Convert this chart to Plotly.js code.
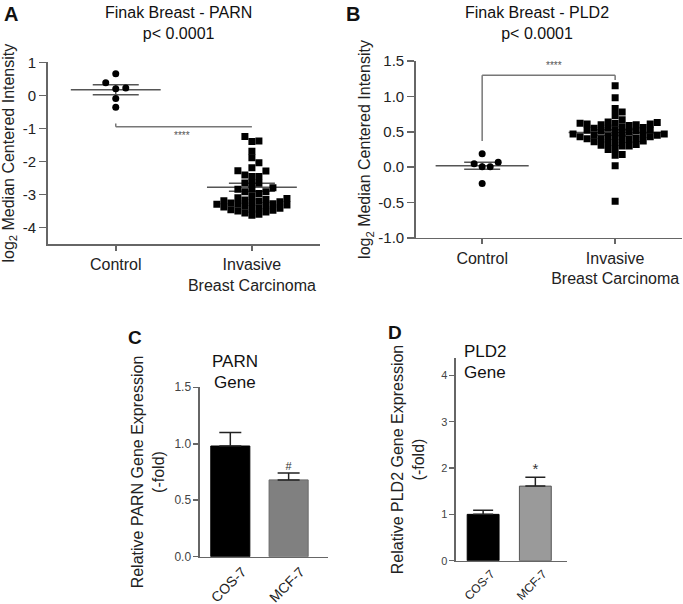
<!DOCTYPE html>
<html>
<head>
<meta charset="utf-8">
<script src="https://cdn.plot.ly/plotly-3.0.1.min.js"></script>
<style>body{margin:0;background:#fff} #plot{width:683px;height:604px}</style>
</head>
<body>
<div id="plot"></div>
<script>
// FINAK BREAST DATASET (panels A and B)
let groups = ["Control", "Invasive<br>Breast Carcinoma"]

let parn_control = [0.65, 0.22, 0.20, 0.38, -0.10, -0.36]
let parn_invasive = [-1.25, -1.38, -1.40, -1.69, -1.89, -2.04, -2.19, -2.28, -2.29, -2.41, -2.46, -2.46,
  -2.65, -2.65, -2.66, -2.80, -2.84, -2.84, -2.92, -2.92, -2.97, -3.05,
  -3.10, -3.12, -3.15, -3.17, -3.19, -3.20, -3.22, -3.24, -3.26, -3.28, -3.30, -3.30, -3.32,
  -3.34, -3.36, -3.38, -3.40, -3.42, -3.44, -3.46, -3.48, -3.50, -3.53, -3.56, -3.60, -3.63]
let parn_means = [0.17, -2.78]
let parn_sems = [0.15, 0.12]
let parn_ticks = [-4, -3, -2, -1, 0, 1]

let pld2_control = [0.19, 0.07, 0.05, 0.005, 0.005, -0.23]
let pld2_invasive = [1.15, 0.98, 0.83, 0.78, 0.73, 0.67,
  0.64, 0.63, 0.62, 0.62, 0.61, 0.61, 0.60, 0.60, 0.59,
  0.57, 0.56, 0.55, 0.55, 0.53, 0.52, 0.52, 0.51, 0.51, 0.50,
  0.48, 0.47, 0.47, 0.46, 0.45, 0.45, 0.44, 0.44, 0.43, 0.43,
  0.41, 0.40, 0.40, 0.39, 0.39, 0.37, 0.36, 0.35, 0.35,
  0.32, 0.31, 0.30, 0.30, 0.26, 0.25, 0.18, 0.17, 0.02, -0.48]
let pld2_means = [0.02, 0.49]
let pld2_sems = [0.05, 0.04]
let pld2_ticks = [-1, -0.5, 0, 0.5, 1, 1.5]

// qPCR IN CELL LINES (panels C and D)
let cells = ["COS-7", "MCF-7"]
let parn_fold = [0.98, 0.68]
let parn_fold_err = [0.12, 0.06]
let pld2_fold = [1.00, 1.61]
let pld2_fold_err = [0.09, 0.19]
let sig_c = ["", "#"]
let sig_d = ["", "*"]

let font = "Liberation Sans, Arial, sans-serif"
let axisGray = "#666"

// hyphen instead of the unicode minus plotly uses
function tickText(vals, digits) {
  return vals.map(v => v.toFixed(digits).replace("\u2212", "-"))
}

// simple beeswarm: place points bottom-up, nearest free slot to the centre
// pxX / pxY are pixels per data unit on each axis
function swarm(vals, pxX, pxY, stepPx, sizePx) {
  let order = vals.map((v, i) => i).sort((a, b) => vals[a] - vals[b])
  let placed = []
  let offs = new Array(vals.length)
  order.forEach(i => {
    let y = vals[i] * pxY
    for (let k = 0; k < 40; k++) {
      let slot = k === 0 ? 0 : (k % 2 ? 1 : -1) * Math.ceil(k / 2)
      let x = slot * stepPx
      let hit = placed.some(p => Math.abs(p[0] - x) < stepPx - 0.5 && Math.abs(p[1] - y) < sizePx)
      if (!hit) { placed.push([x, y]); offs[i] = x / pxX; break }
    }
  })
  return offs
}

function dots(vals, center, offs, symbol, xa, ya) {
  return {
    type: "scatter", mode: "markers", xaxis: xa, yaxis: ya,
    x: vals.map((v, i) => center + offs[i]), y: vals,
    marker: {symbol: symbol, size: 7, color: "#000"},
    hoverinfo: "y"
  }
}

function meanLines(means, half, xa, ya) {
  return means.map((m, i) => ({
    type: "scatter", mode: "lines", xaxis: xa, yaxis: ya,
    x: [i - half, i + half], y: [m, m],
    line: {color: "#555", width: 1.5}, hoverinfo: "skip"
  }))
}

function semBars(means, sems, capPx, xa, ya) {
  return {
    type: "scatter", mode: "markers", xaxis: xa, yaxis: ya,
    x: means.map((m, i) => i), y: means,
    marker: {size: 1, opacity: 0},
    error_y: {type: "data", array: sems, color: "#555", thickness: 1.5, width: capPx},
    hoverinfo: "skip"
  }
}

function sigText(labels, vals, errs, size, xa, ya) {
  let keep = labels.map((t, i) => i).filter(i => labels[i] !== "")
  return {
    type: "scatter", mode: "text", xaxis: xa, yaxis: ya,
    x: keep.map(i => cells[i]), y: keep.map(i => vals[i] + errs[i]),
    text: keep.map(i => labels[i]), textposition: "top center",
    textfont: {family: font, size: size, color: "#333"}, hoverinfo: "skip"
  }
}

// Panel A
let a_ctrl = swarm(parn_control, 136, 33, 10, 7)
let a_inv = swarm(parn_invasive, 136, 33, 7, 6)
// Panel B
let b_ctrl = swarm(pld2_control, 132.7, 70.7, 8, 7)
let b_inv = swarm(pld2_invasive, 132.7, 70.7, 7, 6)

let data = []
data = data.concat(meanLines(parn_means, 0.33, "x", "y"))
data.push(semBars(parn_means, parn_sems, 23, "x", "y"))
data.push(dots(parn_control, 0, a_ctrl, "circle", "x", "y"))
data.push(dots(parn_invasive, 1, a_inv, "square", "x", "y"))

data = data.concat(meanLines(pld2_means, 0.35, "x2", "y2"))
data.push(semBars(pld2_means, pld2_sems, 18, "x2", "y2"))
data.push(dots(pld2_control, 0, b_ctrl, "circle", "x2", "y2"))
data.push(dots(pld2_invasive, 1, b_inv, "square", "x2", "y2"))

// Panel C bars
data.push({
  type: "bar", xaxis: "x3", yaxis: "y3",
  x: cells, y: parn_fold, width: 0.67,
  marker: {color: ["#000", "#808080"], line: {color: ["#000", "#6a6a6a"], width: 1}},
  error_y: {type: "data", array: parn_fold_err, arrayminus: [0, 0], color: "#222", thickness: 1.5, width: 11},
  hoverinfo: "y"
})
data.push(sigText(sig_c, parn_fold, parn_fold_err, 11, "x3", "y3"))

// Panel D bars
data.push({
  type: "bar", xaxis: "x4", yaxis: "y4",
  x: cells, y: pld2_fold, width: 0.61,
  marker: {color: ["#000", "#9a9a9a"], line: {color: ["#000", "#555"], width: 1}},
  error_y: {type: "data", array: pld2_fold_err, arrayminus: [0, 0], color: "#222", thickness: 1.5, width: 10},
  hoverinfo: "y"
})
data.push(sigText(sig_d, pld2_fold, pld2_fold_err, 15, "x4", "y4"))

let base = {
  showline: true, linecolor: axisGray, linewidth: 1.5, showgrid: false, zeroline: false,
  ticks: "outside", tickcolor: axisGray, tickwidth: 1.5, automargin: false, fixedrange: true
}

function label(text, x, y, size, anchor) {
  return {xref: "paper", yref: "paper", x: x, y: y, xanchor: anchor || "left", yanchor: "top",
    showarrow: false, text: text, font: {size: size, color: "#111"}}
}

let layout = {
  width: 683, height: 604,
  margin: {l: 0, r: 0, t: 0, b: 0},
  paper_bgcolor: "#fff", plot_bgcolor: "#fff",
  showlegend: false,
  font: {family: font, color: "#222"},

  xaxis: Object.assign({}, base, {
    domain: [0.0698, 0.4685], range: [-0.5, 1.5], anchor: "y",
    tickvals: [0, 1], ticktext: groups, ticklen: 5, tickfont: {size: 16}
  }),
  yaxis: Object.assign({}, base, {
    domain: [0.596, 0.8969], range: [-4.5, 1], anchor: "x",
    tickvals: parn_ticks, ticktext: tickText(parn_ticks, 0), ticklen: 7, tickfont: {size: 15},
    title: {text: "log<sub>2</sub> Median Centered Intensity", font: {size: 16}, standoff: 6}
  }),

  xaxis2: Object.assign({}, base, {
    domain: [0.6086, 0.998], range: [-0.5, 1.5], anchor: "y2",
    tickvals: [0, 1], ticktext: groups, ticklen: 5, tickfont: {size: 16}
  }),
  yaxis2: Object.assign({}, base, {
    domain: [0.606, 0.899], range: [-1, 1.5], anchor: "x2",
    tickvals: pld2_ticks, ticktext: tickText(pld2_ticks, 1), ticklen: 7, tickfont: {size: 15},
    title: {text: "log<sub>2</sub> Median Centered Intensity", font: {size: 16}, standoff: 3}
  }),

  xaxis3: Object.assign({}, base, {
    domain: [0.2928, 0.4798], range: [-0.52, 1.67], anchor: "y3", type: "category",
    ticks: "", tickangle: -45, tickfont: {size: 14}, ticklabelshift: 12
  }),
  yaxis3: Object.assign({}, base, {
    domain: [0.0783, 0.3588], range: [0, 1.5], anchor: "x3",
    tickvals: [0, 0.5, 1, 1.5], tickformat: ".1f", ticklen: 5, tickfont: {size: 12, color: "#444"},
    title: {text: "Relative PARN Gene Expression<br>(-fold)", font: {size: 16}, standoff: 6}
  }),

  xaxis4: Object.assign({}, base, {
    domain: [0.6676, 0.8297], range: [-0.52, 1.6], anchor: "y4", type: "category",
    ticks: "", tickangle: -45, tickfont: {size: 12}, ticklabelshift: 8
  }),
  yaxis4: Object.assign({}, base, {
    domain: [0.0717, 0.4068], range: [0, 4.37], anchor: "x4",
    tickvals: [0, 1, 2, 3, 4], ticklen: 5, tickfont: {size: 11, color: "#444"},
    title: {text: "Relative PLD2 Gene Expression<br>(-fold)", font: {size: 16}, standoff: 12}
  }),

  shapes: [
    // significance bracket, panel A
    {type: "line", xref: "x", yref: "y", x0: 0, x1: 0, y0: -0.85, y1: -0.95, line: {color: "#777", width: 1.5}},
    {type: "line", xref: "x", yref: "y", x0: 0, x1: 1, y0: -0.95, y1: -0.95, line: {color: "#777", width: 1.5}},
    // significance bracket, panel B
    {type: "line", xref: "x2", yref: "y2", x0: 0, x1: 0, y0: 0.37, y1: 1.30, line: {color: "#777", width: 1.5}},
    {type: "line", xref: "x2", yref: "y2", x0: 0, x1: 1, y0: 1.30, y1: 1.30, line: {color: "#777", width: 1.5}},
    {type: "line", xref: "x2", yref: "y2", x0: 1, x1: 1, y0: 1.30, y1: 1.23, line: {color: "#777", width: 1.5}}
  ],

  annotations: [
    label("<b>A</b>", 0.003, 0.999, 20),
    label("<b>B</b>", 0.503, 0.999, 20),
    label("<b>C</b>", 0.185, 0.462, 19),
    label("<b>D</b>", 0.565, 0.47, 19),

    label("Finak Breast - PARN<br>p< 0.0001", 0.2613, 0.997, 16, "center"),
    label("Finak Breast - PLD2<br>p< 0.0001", 0.786, 0.997, 16, "center"),

    label("PARN", 0.308, 0.421, 17),
    label("Gene", 0.310, 0.386, 17),
    label("PLD2", 0.677, 0.437, 17),
    label("Gene", 0.677, 0.402, 17),

    {xref: "x", yref: "y", x: 0.49, y: -1.22, showarrow: false, text: "****", font: {size: 10, color: "#555"}},
    {xref: "x2", yref: "y2", x: 0.54, y: 1.43, showarrow: false, text: "****", font: {size: 10, color: "#555"}}
  ]
}

Plotly.newPlot("plot", data, layout, {staticPlot: true})
</script>
</body>
</html>
